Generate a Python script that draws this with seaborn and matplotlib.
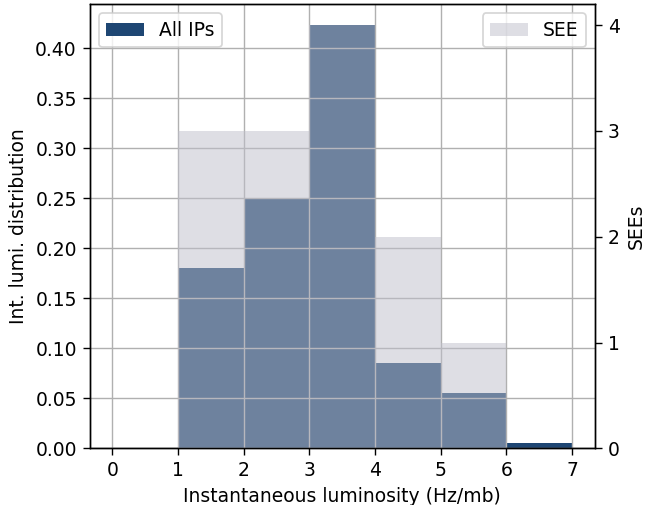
import matplotlib
matplotlib.use("Agg")
import matplotlib.pyplot as plt
import seaborn as sns
import numpy as np

# Instantaneous luminosity bins (Hz/mb)
bin_edges = [0, 1, 2, 3, 4, 5, 6, 7]
# Fraction of integrated luminosity per bin, all IPs combined
lumi_fraction = [0.0, 0.18, 0.25, 0.423, 0.085, 0.055, 0.005]
# Single-event-effect counts per bin
see_counts = [0, 3, 3, 4, 2, 1, 0]

bin_centers = [(a + b) / 2 for a, b in zip(bin_edges[:-1], bin_edges[1:])]

plt.rcParams["font.family"] = ["DejaVu Sans"]
plt.rcParams["font.size"] = 10.8
plt.rcParams["xtick.major.size"] = 3.8
plt.rcParams["ytick.major.size"] = 3.8

fig = plt.figure(figsize=(646 / 125, 505 / 125), dpi=125)
ax = fig.add_axes([89.5 / 646, 1 - 448.3 / 505, (595 - 89.5) / 646, (448.3 - 4) / 505])

sns.histplot(x=bin_centers, weights=lumi_fraction, bins=bin_edges, ax=ax,
             color="#1e4673", alpha=1.0, linewidth=0, label="All IPs")
ax.set_xlabel("Instantaneous luminosity (Hz/mb)")
ax.set_ylabel("Int. lumi. distribution")
ax.set_xticks(range(0, 8))
ax.yaxis.set_major_formatter(matplotlib.ticker.FormatStrFormatter("%.2f"))
ax.set_yticks(np.arange(0, 0.41, 0.05))
ax.grid(True, color="#b0b0b0", linewidth=0.8)
ax.legend(loc="upper left")

ax2 = ax.twinx()
sns.histplot(x=bin_centers, weights=see_counts, bins=bin_edges, ax=ax2,
             color="#bebeca", alpha=0.5, linewidth=0, label="SEE")
ax2.set_ylabel("SEEs")
ax2.set_yticks(range(0, 5))
ax2.legend(loc="upper right")

fig.savefig("out.png", dpi=125)
